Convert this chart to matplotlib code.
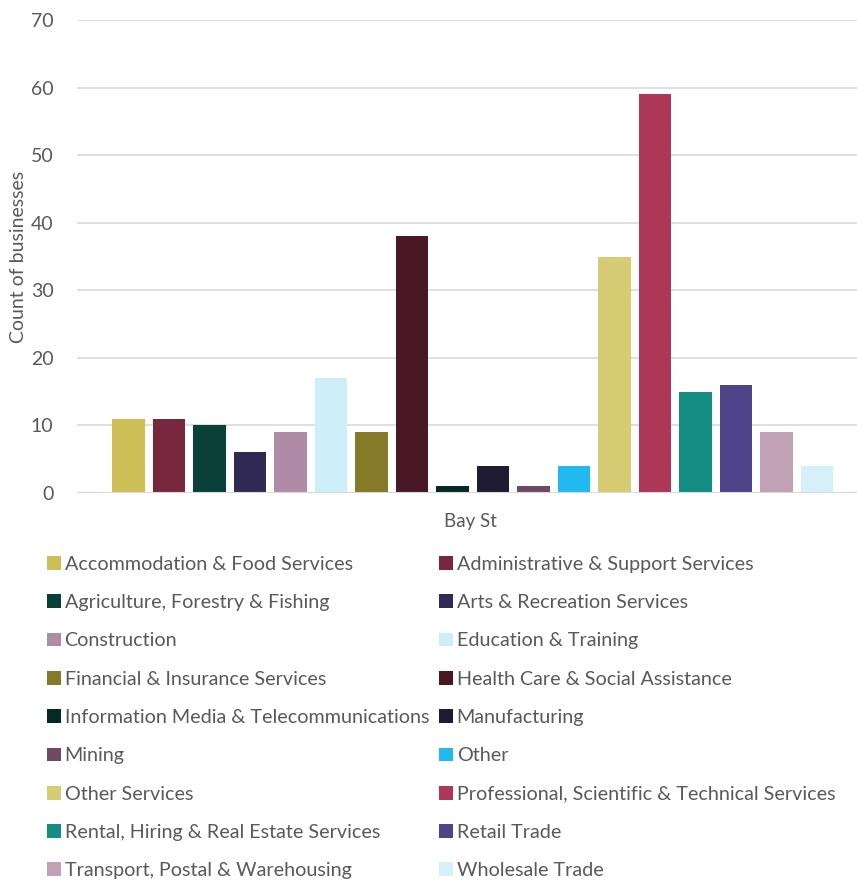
import matplotlib
matplotlib.use("Agg")
import matplotlib.pyplot as plt
from matplotlib.patches import Patch

plt.rcParams['font.family'] = ['Lato', 'DejaVu Sans']

industries = [
    "Accommodation & Food Services",
    "Administrative & Support Services",
    "Agriculture, Forestry & Fishing",
    "Arts & Recreation Services",
    "Construction",
    "Education & Training",
    "Financial & Insurance Services",
    "Health Care & Social Assistance",
    "Information Media & Telecommunications",
    "Manufacturing",
    "Mining",
    "Other",
    "Other Services",
    "Professional, Scientific & Technical Services",
    "Rental, Hiring & Real Estate Services",
    "Retail Trade",
    "Transport, Postal & Warehousing",
    "Wholesale Trade",
]
counts = [11, 11, 10, 6, 9, 17, 9, 38, 1, 4, 1, 4, 35, 59, 15, 16, 9, 4]
colors = [
    "#CDBF55", "#78273E", "#0A403A", "#312A55", "#AF8BA5", "#CDEFFA",
    "#857A28", "#4A1824", "#052A26", "#1E1B33", "#704A65", "#22B9F0",
    "#D6CC74", "#AC3756", "#138D82", "#4F4489", "#C1A1B5", "#D6F0FA",
]
location = "Bay St"

text_color = "#595959"
W, H = 857, 884
fig = plt.figure(figsize=(W / 100, H / 100), dpi=100)
ax = fig.add_axes([77 / W, 1 - 493 / H, (W - 77) / W, (493 - 20) / H])

xs = list(range(len(counts)))
ax.bar(xs, counts, width=0.8, color=colors, zorder=3)

ax.set_ylim(0, 70)
ax.set_xlim(-1.267, 17.99)
ax.set_yticks(range(0, 71, 10))
ax.set_xticks([])
ax.grid(axis='y', color="#D9D9D9", linewidth=1.2, zorder=0)
for s in ax.spines.values():
    s.set_visible(False)
ax.axhline(0, color="#D9D9D9", linewidth=1.5, zorder=4)
ax.tick_params(axis='y', length=0, pad=17, labelsize=14, labelcolor=text_color)
ax.set_ylabel("Count of businesses", fontsize=14, color=text_color)
ax.yaxis.set_label_coords(-(77 - 27) / (W - 77), 0.5)

fig.text(470 / W, 1 - 521 / H, location, ha='center', va='center',
         fontsize=13.5, color=text_color)

handles = [Patch(facecolor=c, label=l) for c, l in zip(colors, industries)]
order = list(range(0, len(handles), 2)) + list(range(1, len(handles), 2))
leg = fig.legend([handles[i] for i in order], [industries[i] for i in order],
                 ncol=2, loc='upper left', bbox_to_anchor=(37 / W, 1 - 546 / H),
                 frameon=False, fontsize=14.2, labelcolor=text_color,
                 handlelength=0.7, handleheight=0.7, handletextpad=0.2,
                 labelspacing=1.08, columnspacing=0.5, borderpad=0)

fig.savefig("out.png", dpi=100, facecolor="white")
